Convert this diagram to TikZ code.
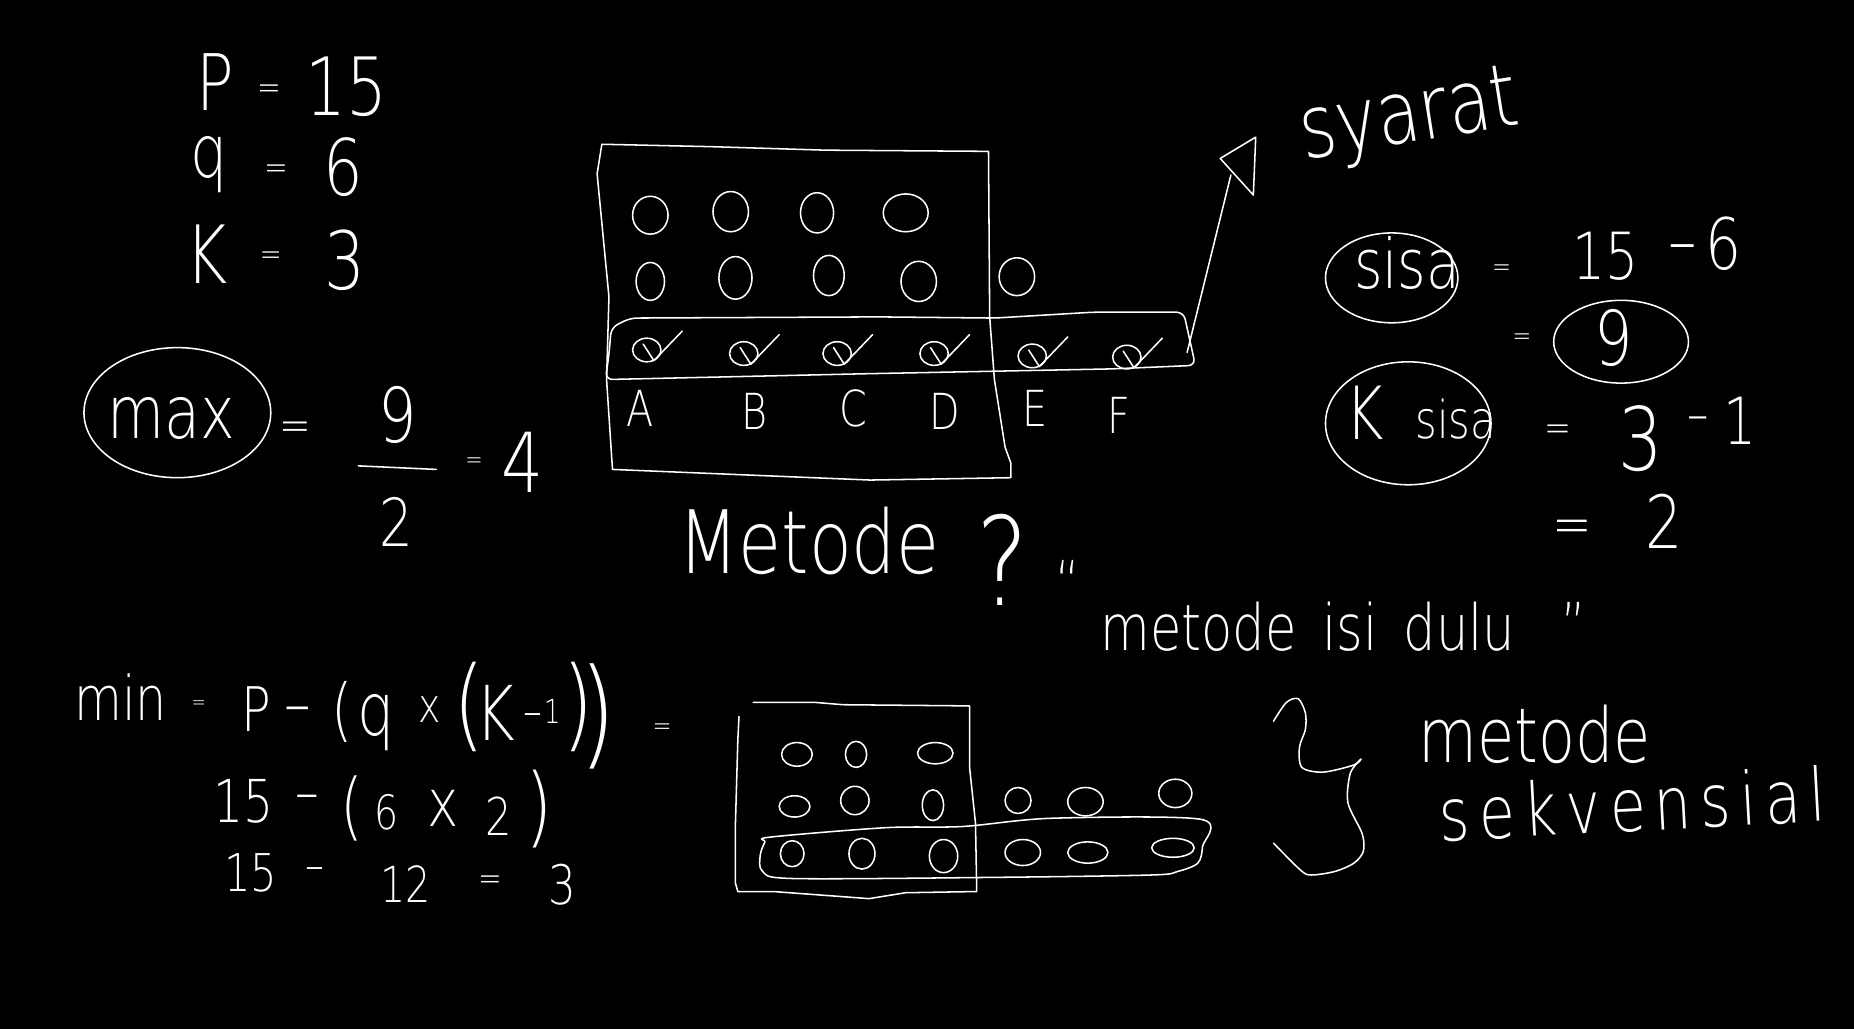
\documentclass[tikz,border=0pt]{standalone}
\usepackage{fontspec}
\newfontfamily\hwfont[FakeStretch=0.8]{DejaVu Sans ExtraLight}
\newcommand\hsz[1]{\fontsize{#1}{#1}\selectfont}
\tikzset{
  hw/.style={text=white,inner sep=0pt,font=\hwfont\hsz{#1}},
  ink/.style={draw=white,line width=1.3pt,line cap=round,line join=round},
}
\begin{document}
\begin{tikzpicture}[x=1pt,y=-1pt]
\fill[black] (0,0) rectangle (1568,870);
\useasboundingbox (0,0) rectangle (1568,870);

% ---------- top left: givens ----------
\node[hw=66] (P) at (182,69) {P};
\node[hw=30] (eqP) at (228,78) {=};
\node[hw=68] (n15) at (293,73) {15};
\node[hw=62] (q) at (177,139) {q};
\node[hw=30] (eqq) at (234,146) {=};
\node[hw=66] (n6) at (290,141) {6};
\node[hw=68] (K) at (175,215) {K};
\node[hw=28] (eqK) at (229,219) {=};
\node[hw=68] (n3) at (292,220) {3};

% ---------- max ----------
\draw[ink] (150,349) ellipse [x radius=79, y radius=55];
\node[hw=62,anchor=base] (max) at (145,371) {max};
\node[hw=40] (eqmax) at (250,365) {=};
\node[hw=64] (num9) at (336,351) {9};
\draw[ink] (303,394) -- (369,397);
\node[hw=56] (den2) at (335,441) {2};
\node[hw=22] (eqfr) at (401,392) {=};
\node[hw=70] (n4) at (442,391) {4};

% ---------- centre box ----------
\draw[ink] (509,122) -- (600,124) -- (698,127) -- (836,128) -- (837,268) -- (841,321)
  -- (850,378) -- (855,392) -- (855,404) -- (736,406) -- (518,397) -- (513,321)
  -- (515,251) -- (505,147) -- cycle;
\foreach \x/\y/\rx/\ry in {550/182/15/16, 618/179/15/17, 691/180/14/17, 766/180/19/16,
  550/238/12/16, 622/235/14/18, 701/233/13/17, 777/238/15/17, 860/234/15/16}
  \draw[ink] (\x,\y) ellipse [x radius=\rx, y radius=\ry];
\draw[ink,rounded corners=6pt] (517,277) -- (533,269) -- (743,268) -- (841,269) -- (925,264)
  -- (1001,264) -- (1011,309) -- (940,312) -- (736,316) -- (512,321) -- (515,300) -- cycle;
\foreach \x/\y in {547/296, 629/299, 708/299, 790/299, 873/301, 953/302} {
  \draw[ink] (\x,\y) ellipse [x radius=12, y radius=10];
  \draw[ink] (\x-3,\y-5) -- (\x+6,\y+9) -- (\x+30,\y-16);
}
\foreach \l/\x/\y in {A/541/345, B/638/348, C/722/345, D/799/348, E/875/345, F/946/351}
  \node[hw=42] (lab\l) at (\x,\y) {\l};

% arrow to "syarat"
\coordinate (arrS) at (1004,298);
\coordinate (arrE) at (1041,148);
\draw[ink] (arrS) -- (arrE);
\draw[ink] (1032,134) -- (1062,116) -- (1060,165) -- cycle;
\node[hw=74,anchor=base,rotate=9] (syarat) at (1195,120) {syarat};

% ---------- metode ? ----------
\node[hw=74,anchor=base] (metodeA) at (684,485) {Metode};
\node[hw=104,anchor=base] (qm) at (848,512) {?};
\node[hw=50,anchor=north] (oq) at (903,474) {“};
\node[hw=54,anchor=base] (isidulu) at (1106,550) {metode\hspace{22pt}isi\hspace{22pt}dulu};
\node[hw=50,anchor=north] (cq) at (1331,509) {”};

% ---------- right: sisa ----------
\draw[ink] (1177,235) ellipse [x radius=56, y radius=38];
\node[hw=58,anchor=base] (sisa) at (1190,244) {sisa};
\node[hw=24] (eqs) at (1270,229) {=};
\node[hw=55] (s15) at (1358,217) {15};
\node[hw=60] (sdash) at (1423,216) {–};
\node[hw=60] (s6) at (1458,206) {6};
\node[hw=24] (eqs2) at (1287,287) {=};
\draw[ink] (1371,289) ellipse [x radius=57, y radius=35];
\node[hw=64] (s9) at (1365,286) {9};
\draw[ink] (1191,358) ellipse [x radius=70, y radius=52];
\node[hw=62] (Ks) at (1154,349) {K};
\node[hw=44,anchor=base] (Ksisa) at (1231,371) {sisa};
\node[hw=34] (eqk) at (1318,366) {=};
\node[hw=74] (k3) at (1388,371) {3};
\node[hw=45] (kdash) at (1436,359) {–};
\node[hw=55] (k1) at (1472,356) {1};
\node[hw=50] (eqk2) at (1330,450) {=};
\node[hw=62] (k2) at (1407,441) {2};

% ---------- bottom left: min ----------
\node[hw=52,anchor=base] (min) at (102,609) {min};
\node[hw=18] (eqmin) at (168,596) {=};
\node[hw=52] (mP) at (217,600) {P};
\node[hw=56] (mdash) at (252,606) {–};
\node[hw=58] (mpar1) at (289,602) {(};
\node[hw=62] (mq) at (318,611) {q};
\node[hw=40] (mx) at (363,600) {x};
\node[hw=85] (mpar2) at (397,598) {(};
\node[hw=64] (mK) at (419,603) {K};
\node[hw=40] (mdash2) at (451,609) {–};
\node[hw=28] (m1) at (467,602) {1};
\node[hw=85] (mpar3) at (489,598) {)};
\node[hw=100] (mpar4) at (506,606) {)};
\node[hw=24] (meq) at (560,617) {=};

\node[hw=50] (l15) at (206,678) {15};
\node[hw=50] (ldash) at (260,680) {–};
\node[hw=62] (lpar1) at (298,684) {(};
\node[hw=40] (l6) at (327,687) {6};
\node[hw=56] (lx) at (375,684) {x};
\node[hw=44] (l2) at (422,690) {2};
\node[hw=74] (lpar2) at (456,684) {)};

\node[hw=44] (t15) at (212,738) {15};
\node[hw=40] (tdash) at (266,740) {–};
\node[hw=42] (t12) at (343,748) {12};
\node[hw=30] (teq) at (415,747) {=};
\node[hw=46] (t3) at (476,748) {3};

% ---------- bottom box ----------
\draw[ink] (637,594) -- (689,594) -- (713,596) -- (820,597) -- (820,649) -- (825,696)
  -- (826,750) -- (826,754) -- (766,755) -- (735,760) -- (654,754) -- (624,754)
  -- (622,747) -- (622,696) -- (624,626) -- (625,606);
\draw[ink] plot[smooth cycle, tension=0.5] coordinates {(651,708) (749,700) (814,699) (890,692)
  (1016,693) (1017,716) (1013,730) (996,737) (974,740) (842,742) (671,743) (645,737) (643,723) (647,712)};
\foreach \x/\y/\rx/\ry in {674/638/13/10, 724/638/9/11, 791/637/15/9,
  672/682/13/9, 723/677/12/12, 789/681/9/13, 861/677/11/11, 918/678/15/12, 994/671/14/12,
  670/722/10/11, 729/722/11/13, 798/724/12/14, 865/721/15/11, 920/721/17/9, 992/717/18/8}
  \draw[ink] (\x,\y) ellipse [x radius=\rx, y radius=\ry];

% brace
\draw[ink] plot[smooth] coordinates {(1077,610) (1088,594) (1098,591) (1104,603) (1104,617)
  (1099,632) (1101,649) (1119,653) (1145,647) (1151,642)};
\draw[ink] plot[smooth] coordinates {(1151,642) (1142,654) (1140,679) (1152,705) (1153,720)
  (1145,730) (1129,737) (1109,740) (1100,736) (1077,713)};

\node[hw=64,anchor=base] (metodeB) at (1298,645) {metode};
\node[hw=62,font=\hwfont\hsz{62}\addfontfeature{LetterSpace=12},anchor=base,rotate=3] (sekv) at (1382,703) {sekvensial};

\end{tikzpicture}
\end{document}
